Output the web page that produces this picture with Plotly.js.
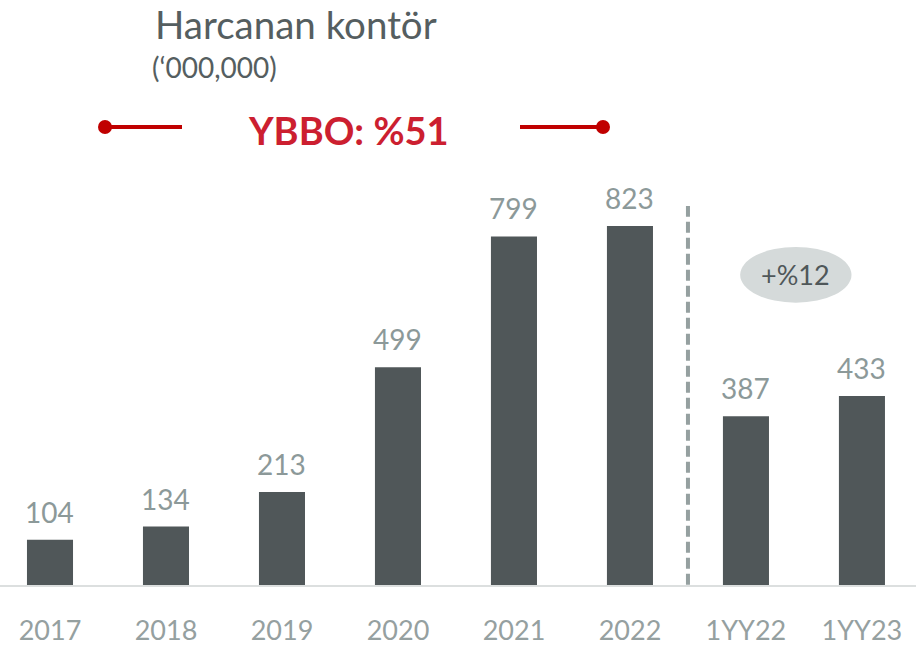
<!DOCTYPE html>
<html><head><meta charset="utf-8">
<script src="https://cdn.plot.ly/plotly-3.0.1.min.js"></script>
<style>html,body{margin:0;padding:0;background:#fff;}#chart{width:916px;height:645px;}</style>
</head><body><div id="chart"></div>
<script>
const categories = ["2017","2018","2019","2020","2021","2022","1YY22","1YY23"];
const values = [104,134,213,499,799,823,387,433];
const valueLabels = ["104","134","213","499","799","823","387","433"];
const chartTitle = "Harcanan kontör";
const unitLabel = "(‘000,000)";
const cagrLabel = "YBBO: %51";
const growthLabel = "+%12";

const FONT = "Lato, 'Open Sans', sans-serif";
const H = 585; // plot height px
const py = px => (H - px) / H;
const pxX = px => px / 916;

const trace = {
  type: "bar",
  x: categories,
  y: values,
  cliponaxis: false,
  marker: {color: "#505759"},
  width: 0.397,
  hoverinfo: "none"
};

const valueAnnotations = categories.map((c, i) => ({
  text: valueLabels[i], xref: "x", yref: "y", x: i, y: values[i],
  xanchor: "center", yanchor: "bottom", yshift: 9, showarrow: false,
  font: {family: FONT, size: 28, color: "#8c9999"}
}));

const layout = {
  width: 916, height: 645,
  margin: {l: 0, r: 0, t: 0, b: 60},
  paper_bgcolor: "#fff", plot_bgcolor: "#fff",
  showlegend: false,
  xaxis: {
    type: "category",
    range: [-0.431, 7.466],
    showgrid: false, zeroline: false,
    showline: true, linecolor: "#dcdfdf", linewidth: 2,
    ticks: "", ticklabelstandoff: 21,
    tickfont: {family: FONT, size: 27, color: "#95a0a0"},
    fixedrange: true
  },
  yaxis: {
    range: [0, 1341],
    visible: false, showgrid: false, zeroline: false, fixedrange: true
  },
  shapes: [
    {type: "line", xref: "x", yref: "y", x0: 5.5, x1: 5.5, y0: -73, y1: 869,
     line: {color: "#95a0a0", width: 4, dash: "11px,5px"}},
    {type: "circle", xref: "x", yref: "y", x0: 5.95, x1: 6.91, y0: 647, y1: 775,
     fillcolor: "#d5dada", line: {width: 0}, layer: "below"},
    {type: "line", xref: "paper", yref: "paper", x0: pxX(105), x1: pxX(182), y0: py(127), y1: py(127),
     line: {color: "#c00000", width: 4}},
    {type: "line", xref: "paper", yref: "paper", x0: pxX(520), x1: pxX(603), y0: py(127), y1: py(127),
     line: {color: "#c00000", width: 4}},
    {type: "circle", xref: "paper", yref: "paper", xsizemode: "pixel", ysizemode: "pixel",
     xanchor: pxX(105), yanchor: py(127), x0: -7, x1: 7, y0: -7, y1: 7,
     fillcolor: "#c00000", line: {width: 0}},
    {type: "circle", xref: "paper", yref: "paper", xsizemode: "pixel", ysizemode: "pixel",
     xanchor: pxX(603), yanchor: py(127), x0: -7, x1: 7, y0: -7, y1: 7,
     fillcolor: "#c00000", line: {width: 0}}
  ],
  annotations: valueAnnotations.concat([
    {text: chartTitle, xref: "paper", yref: "paper", x: pxX(153), y: py(24),
     xanchor: "left", yanchor: "middle", showarrow: false,
     font: {family: FONT, size: 38.5, color: "#555e60"}},
    {text: unitLabel, xref: "paper", yref: "paper", x: pxX(150), y: py(67),
     xanchor: "left", yanchor: "middle", showarrow: false,
     font: {family: FONT, size: 28, color: "#555e60"}},
    {text: "<b>" + cagrLabel + "</b>", xref: "paper", yref: "paper", x: pxX(348), y: py(130),
     xanchor: "center", yanchor: "middle", showarrow: false,
     font: {family: FONT, size: 38, color: "#cc1f30"}},
    {text: growthLabel, xref: "x", yref: "y", x: 6.43, y: 711,
     xanchor: "center", yanchor: "middle", showarrow: false,
     font: {family: FONT, size: 27, color: "#4f5759"}}
  ])
};

Plotly.newPlot("chart", [trace], layout, {staticPlot: true, displayModeBar: false});
</script>
</body></html>
